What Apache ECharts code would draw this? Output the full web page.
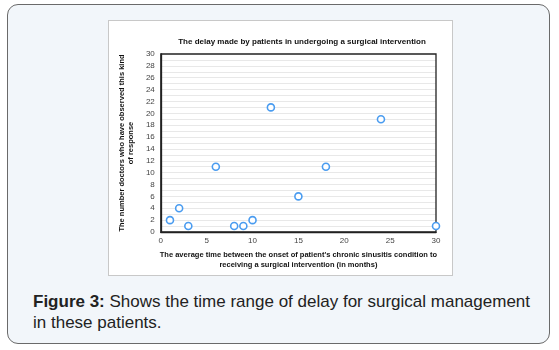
<!DOCTYPE html>
<html><head><meta charset="utf-8">
<script src="https://cdn.jsdelivr.net/npm/echarts@6/dist/echarts.min.js"></script>
<style>
html,body{margin:0;padding:0;background:#fff;}
#frame{position:absolute;left:7px;top:4px;width:541px;height:338px;border:1.5px solid #6a6a6a;border-radius:11px;background:#f2f6fa;}
#img{position:absolute;left:108px;top:20px;width:343px;height:254px;background:#fff;border:1px solid #c8c8c8;}
#chart{width:343px;height:254px;}
#cap{position:absolute;left:33px;top:291px;width:498px;font-family:"Liberation Sans",Arial,sans-serif;font-size:17px;line-height:21px;color:#222;}
</style></head>
<body>
<div id="frame"></div>
<div id="img"><div id="chart"></div></div>
<div id="cap"><b>Figure 3:</b> Shows the time range of delay for surgical management in these patients.</div>
<script>
var xValues = [1, 2, 3, 6, 8, 9, 10, 12, 15, 18, 24, 30];
var yValues = [2, 4, 1, 11, 1, 1, 2, 21, 6, 11, 19, 1];
var chartTitle = 'The delay made by patients in undergoing a surgical intervention';
var xName = "The average time between the onset of patient's chronic sinusitis condition to\nreceiving a surgical intervention (in months)";
var yName = 'The number doctors who have observed this kind\nof response';

var data = xValues.map(function(x,i){return [x, yValues[i]];});
var chart = echarts.init(document.getElementById('chart'));
var font = '"Liberation Sans", Arial, sans-serif';
chart.setOption({
  animation:false,
  title:{text:chartTitle,left:188,top:12,textAlign:'center',textStyle:{fontSize:8,fontWeight:'bold',color:'#111',fontFamily:font}},
  grid:{left:50,top:33,right:16,bottom:38,show:true,borderColor:'#222',borderWidth:1.3,backgroundColor:'transparent',z:5},
  xAxis:{type:'value',min:0,max:30,interval:5,
    name:xName,nameLocation:'middle',nameGap:18,
    nameTextStyle:{fontSize:7.5,fontWeight:'bold',color:'#111',fontFamily:font,lineHeight:10,verticalAlign:'top'},
    axisLine:{show:true,onZero:false,lineStyle:{color:'#222',width:1.3}},axisTick:{show:false},
    axisLabel:{fontSize:8,color:'#444',fontFamily:font,margin:5},
    splitLine:{show:false}},
  yAxis:{type:'value',min:0,max:30,interval:1,
    name:yName,nameLocation:'middle',nameGap:17,nameRotate:90,
    nameTextStyle:{fontSize:7.5,fontWeight:'bold',color:'#111',fontFamily:font,lineHeight:9},
    axisLine:{show:true,onZero:false,lineStyle:{color:'#222',width:1.3}},axisTick:{show:false},
    axisLabel:{fontSize:8,color:'#444',fontFamily:font,margin:6,formatter:function(v){return v%2===0?String(v):'';}},
    splitLine:{show:true,showMaxLine:false,showMinLine:false,lineStyle:{color:'#e8e8e8',width:1}}},
  series:[{type:'scatter',data:data,symbol:'circle',symbolSize:7,z:10,
    itemStyle:{color:'#ffffff',borderColor:'#4a9cf0',borderWidth:1.6,opacity:1},clip:false}]
});
</script>
</body></html>
